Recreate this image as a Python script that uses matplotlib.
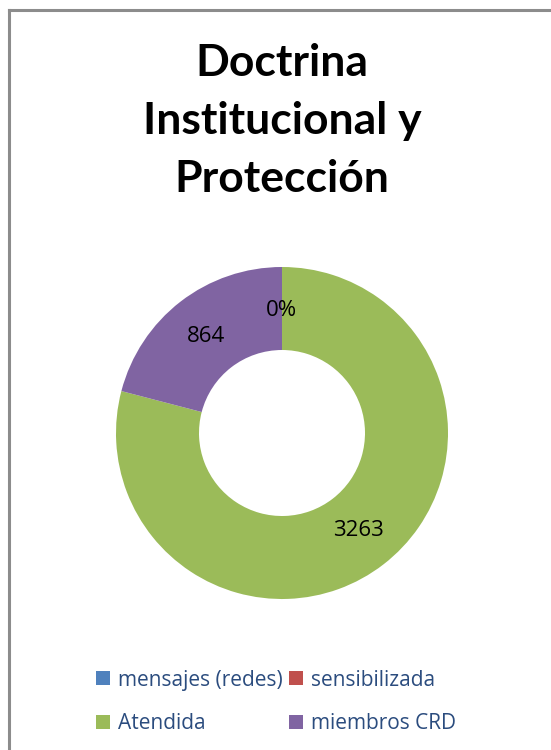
import matplotlib.pyplot as plt
from matplotlib.lines import Line2D
from matplotlib.patches import Patch

title = "Doctrina\nInstitucional y\nProtección"
categories = ["mensajes (redes)", "sensibilizada", "Atendida", "miembros CRD"]
values = [0, 0, 3263, 864]
labels = ["0%", "0%", "3263", "864"]
colors = ["#4F81BD", "#C0504D", "#9BBB59", "#8064A2"]

W, H = 551, 750
fig = plt.figure(figsize=(W / 100, H / 100), dpi=100)

# gray frame, only left and top edges visible
fig.add_artist(Line2D([8.5 / W, 8.5 / W], [0, 1 - 9.5 / H], transform=fig.transFigure,
                      color="#8c8c8c", lw=2.2))
fig.add_artist(Line2D([8.5 / W, 1], [1 - 9.5 / H, 1 - 9.5 / H], transform=fig.transFigure,
                      color="#8c8c8c", lw=2.2))

fig.text(282 / W, 1 - 121 / H, title, ha="center", va="center", fontsize=32,
         fontweight="bold", family="Lato", linespacing=1.55)

# donut centred at (282, 433), outer radius 166 px
cx, cy, r = 282, 433, 166
ax = fig.add_axes([(cx - r) / W, 1 - (cy + r) / H, 2 * r / W, 2 * r / H])
ax.pie(values, colors=colors, startangle=90, counterclock=False, radius=1,
       wedgeprops=dict(width=0.5, edgecolor="none"))
ax.set_xlim(-1, 1)
ax.set_ylim(-1, 1)
ax.set_aspect("equal")
ax.axis("off")

# data labels (placed in data coordinates of the donut)
def px(x, y):
    return (x - cx) / r, (cy - y) / r

for lab, (x, y) in zip(labels[1:], [(281, 311), (358, 530), (206, 337)]):
    ax.text(*px(x, y), lab, ha="center", va="center", fontsize=16, color="black",
            family="Open Sans")

# legend fills by column, so reorder to read row by row
order = [0, 2, 1, 3]
handles = [Patch(facecolor=colors[i], edgecolor="none") for i in order]
leg = fig.legend(handles, [categories[i] for i in order], loc="center",
                 bbox_to_anchor=(276 / W, 1 - 702 / H),
                 ncol=2, frameon=False, handlelength=0.65, handleheight=0.65,
                 handletextpad=0.4, columnspacing=0.3, labelspacing=1.1,
                 prop={"family": "Open Sans", "size": 15})
for t in leg.get_texts():
    t.set_color("#2B4C7E")

fig.savefig("out.png", dpi=100)
